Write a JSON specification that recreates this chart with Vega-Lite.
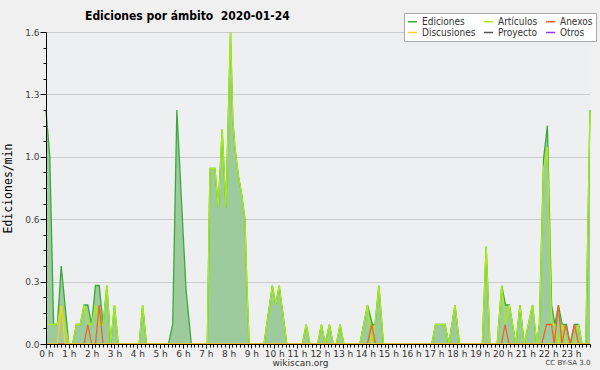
{
"$schema": "https://vega.github.io/schema/vega-lite/v6.json",
"width": 544, "height": 312,
"autosize": "none",
"padding": {"left": 46, "top": 32, "right": 10, "bottom": 26},
"background": "#f0f0f0",
"config": {"view": {"fill": "#edeff1", "stroke": null}, "font": "DejaVu Sans"},
"title": {"text": "Ediciones por ámbito\u00a0 2020-01-24", "anchor": "start", "frame": "group", "dx": 39, "offset": 10, "dy": 20, "fontSize": 12, "font": "DejaVu Sans Condensed", "fontWeight": "bold", "color": "#000"},
"data": {"values": [
{"s":"Ediciones","m":0,"v":1.2},{"s":"Ediciones","m":10,"v":0.96},{"s":"Ediciones","m":20,"v":0.1},{"s":"Ediciones","m":30,"v":0.1},{"s":"Ediciones","m":40,"v":0.4},{"s":"Ediciones","m":50,"v":0.2},{"s":"Ediciones","m":60,"v":0},{"s":"Ediciones","m":70,"v":0},{"s":"Ediciones","m":80,"v":0.1},{"s":"Ediciones","m":90,"v":0.1},{"s":"Ediciones","m":100,"v":0.2},{"s":"Ediciones","m":110,"v":0.2},{"s":"Ediciones","m":120,"v":0.1},{"s":"Ediciones","m":130,"v":0.3},{"s":"Ediciones","m":140,"v":0.3},{"s":"Ediciones","m":150,"v":0.1},{"s":"Ediciones","m":160,"v":0.3},{"s":"Ediciones","m":170,"v":0},{"s":"Ediciones","m":180,"v":0.2},{"s":"Ediciones","m":190,"v":0},{"s":"Ediciones","m":245,"v":0},{"s":"Ediciones","m":254,"v":0.2},{"s":"Ediciones","m":264,"v":0},{"s":"Ediciones","m":322,"v":0},{"s":"Ediciones","m":333,"v":0.1},{"s":"Ediciones","m":344,"v":1.2},{"s":"Ediciones","m":368,"v":0.28},{"s":"Ediciones","m":382,"v":0},{"s":"Ediciones","m":424,"v":0},{"s":"Ediciones","m":431,"v":0.9},{"s":"Ediciones","m":444,"v":0.9},{"s":"Ediciones","m":453,"v":0.7},{"s":"Ediciones","m":463,"v":1.1},{"s":"Ediciones","m":473,"v":0.7},{"s":"Ediciones","m":485,"v":1.6},{"s":"Ediciones","m":491,"v":1.15},{"s":"Ediciones","m":497,"v":1.0},{"s":"Ediciones","m":506,"v":0.86},{"s":"Ediciones","m":514,"v":0.77},{"s":"Ediciones","m":523,"v":0.64},{"s":"Ediciones","m":528,"v":0.3},{"s":"Ediciones","m":534,"v":0},{"s":"Ediciones","m":573,"v":0},{"s":"Ediciones","m":584,"v":0.15},{"s":"Ediciones","m":595,"v":0.3},{"s":"Ediciones","m":604,"v":0.2},{"s":"Ediciones","m":613,"v":0.3},{"s":"Ediciones","m":623,"v":0.15},{"s":"Ediciones","m":633,"v":0},{"s":"Ediciones","m":674,"v":0},{"s":"Ediciones","m":684,"v":0.1},{"s":"Ediciones","m":694,"v":0},{"s":"Ediciones","m":714,"v":0},{"s":"Ediciones","m":724,"v":0.1},{"s":"Ediciones","m":734,"v":0},{"s":"Ediciones","m":745,"v":0.1},{"s":"Ediciones","m":755,"v":0},{"s":"Ediciones","m":763,"v":0},{"s":"Ediciones","m":773,"v":0.1},{"s":"Ediciones","m":783,"v":0},{"s":"Ediciones","m":825,"v":0},{"s":"Ediciones","m":845,"v":0.2},{"s":"Ediciones","m":858,"v":0.1},{"s":"Ediciones","m":865,"v":0.1},{"s":"Ediciones","m":875,"v":0.3},{"s":"Ediciones","m":887,"v":0},{"s":"Ediciones","m":1014,"v":0},{"s":"Ediciones","m":1024,"v":0.1},{"s":"Ediciones","m":1049,"v":0.1},{"s":"Ediciones","m":1059,"v":0},{"s":"Ediciones","m":1075,"v":0.2},{"s":"Ediciones","m":1087,"v":0},{"s":"Ediciones","m":1147,"v":0},{"s":"Ediciones","m":1157,"v":0.5},{"s":"Ediciones","m":1167,"v":0},{"s":"Ediciones","m":1186,"v":0},{"s":"Ediciones","m":1198,"v":0.3},{"s":"Ediciones","m":1208,"v":0.2},{"s":"Ediciones","m":1218,"v":0.2},{"s":"Ediciones","m":1235,"v":0},{"s":"Ediciones","m":1246,"v":0.2},{"s":"Ediciones","m":1257,"v":0},{"s":"Ediciones","m":1268,"v":0.1},{"s":"Ediciones","m":1279,"v":0.2},{"s":"Ediciones","m":1290,"v":0},{"s":"Ediciones","m":1297,"v":0.1},{"s":"Ediciones","m":1308,"v":0.95},{"s":"Ediciones","m":1318,"v":1.12},{"s":"Ediciones","m":1329,"v":0.2},{"s":"Ediciones","m":1338,"v":0.1},{"s":"Ediciones","m":1347,"v":0.2},{"s":"Ediciones","m":1357,"v":0.1},{"s":"Ediciones","m":1368,"v":0.1},{"s":"Ediciones","m":1378,"v":0},{"s":"Ediciones","m":1389,"v":0.1},{"s":"Ediciones","m":1400,"v":0.1},{"s":"Ediciones","m":1409,"v":0},{"s":"Ediciones","m":1419,"v":0},{"s":"Ediciones","m":1430,"v":1.2},
{"s":"Artículos","m":0,"v":0.1},{"s":"Artículos","m":30,"v":0.1},{"s":"Artículos","m":40,"v":0.2},{"s":"Artículos","m":50,"v":0.1},{"s":"Artículos","m":60,"v":0},{"s":"Artículos","m":70,"v":0},{"s":"Artículos","m":80,"v":0.1},{"s":"Artículos","m":90,"v":0.1},{"s":"Artículos","m":100,"v":0.2},{"s":"Artículos","m":110,"v":0.1},{"s":"Artículos","m":120,"v":0.1},{"s":"Artículos","m":130,"v":0.2},{"s":"Artículos","m":140,"v":0.1},{"s":"Artículos","m":150,"v":0.1},{"s":"Artículos","m":160,"v":0.3},{"s":"Artículos","m":170,"v":0},{"s":"Artículos","m":180,"v":0.2},{"s":"Artículos","m":190,"v":0},{"s":"Artículos","m":245,"v":0},{"s":"Artículos","m":254,"v":0.2},{"s":"Artículos","m":264,"v":0},{"s":"Artículos","m":424,"v":0},{"s":"Artículos","m":431,"v":0.9},{"s":"Artículos","m":444,"v":0.9},{"s":"Artículos","m":453,"v":0.7},{"s":"Artículos","m":463,"v":1.1},{"s":"Artículos","m":473,"v":0.7},{"s":"Artículos","m":485,"v":1.6},{"s":"Artículos","m":491,"v":1.15},{"s":"Artículos","m":497,"v":1.0},{"s":"Artículos","m":506,"v":0.86},{"s":"Artículos","m":514,"v":0.77},{"s":"Artículos","m":523,"v":0.64},{"s":"Artículos","m":528,"v":0.3},{"s":"Artículos","m":534,"v":0},{"s":"Artículos","m":573,"v":0},{"s":"Artículos","m":584,"v":0.15},{"s":"Artículos","m":595,"v":0.3},{"s":"Artículos","m":604,"v":0.2},{"s":"Artículos","m":613,"v":0.3},{"s":"Artículos","m":623,"v":0.15},{"s":"Artículos","m":633,"v":0},{"s":"Artículos","m":674,"v":0},{"s":"Artículos","m":684,"v":0.1},{"s":"Artículos","m":694,"v":0},{"s":"Artículos","m":714,"v":0},{"s":"Artículos","m":724,"v":0.1},{"s":"Artículos","m":734,"v":0},{"s":"Artículos","m":745,"v":0.1},{"s":"Artículos","m":755,"v":0},{"s":"Artículos","m":763,"v":0},{"s":"Artículos","m":773,"v":0.1},{"s":"Artículos","m":783,"v":0},{"s":"Artículos","m":825,"v":0},{"s":"Artículos","m":845,"v":0.2},{"s":"Artículos","m":856,"v":0},{"s":"Artículos","m":865,"v":0.1},{"s":"Artículos","m":875,"v":0.3},{"s":"Artículos","m":887,"v":0},{"s":"Artículos","m":1014,"v":0},{"s":"Artículos","m":1024,"v":0.1},{"s":"Artículos","m":1049,"v":0.1},{"s":"Artículos","m":1059,"v":0},{"s":"Artículos","m":1075,"v":0.2},{"s":"Artículos","m":1087,"v":0},{"s":"Artículos","m":1147,"v":0},{"s":"Artículos","m":1157,"v":0.5},{"s":"Artículos","m":1167,"v":0},{"s":"Artículos","m":1186,"v":0},{"s":"Artículos","m":1198,"v":0.3},{"s":"Artículos","m":1208,"v":0.1},{"s":"Artículos","m":1218,"v":0.2},{"s":"Artículos","m":1235,"v":0},{"s":"Artículos","m":1246,"v":0.2},{"s":"Artículos","m":1257,"v":0},{"s":"Artículos","m":1268,"v":0.1},{"s":"Artículos","m":1279,"v":0.2},{"s":"Artículos","m":1290,"v":0},{"s":"Artículos","m":1297,"v":0.1},{"s":"Artículos","m":1308,"v":0.9},{"s":"Artículos","m":1318,"v":1.01},{"s":"Artículos","m":1329,"v":0.1},{"s":"Artículos","m":1338,"v":0.1},{"s":"Artículos","m":1347,"v":0},{"s":"Artículos","m":1357,"v":0.1},{"s":"Artículos","m":1368,"v":0},{"s":"Artículos","m":1389,"v":0},{"s":"Artículos","m":1400,"v":0.1},{"s":"Artículos","m":1409,"v":0},{"s":"Artículos","m":1419,"v":0},{"s":"Artículos","m":1430,"v":1.2},
{"s":"Anexos","m":0,"v":0},{"s":"Anexos","m":100,"v":0},{"s":"Anexos","m":110,"v":0.1},{"s":"Anexos","m":120,"v":0},{"s":"Anexos","m":130,"v":0},{"s":"Anexos","m":140,"v":0.2},{"s":"Anexos","m":150,"v":0},{"s":"Anexos","m":845,"v":0},{"s":"Anexos","m":856,"v":0.1},{"s":"Anexos","m":866,"v":0},{"s":"Anexos","m":1197,"v":0},{"s":"Anexos","m":1207,"v":0.1},{"s":"Anexos","m":1217,"v":0},{"s":"Anexos","m":1303,"v":0},{"s":"Anexos","m":1316,"v":0.1},{"s":"Anexos","m":1329,"v":0.1},{"s":"Anexos","m":1336,"v":0},{"s":"Anexos","m":1347,"v":0.2},{"s":"Anexos","m":1356,"v":0},{"s":"Anexos","m":1366,"v":0.1},{"s":"Anexos","m":1378,"v":0},{"s":"Anexos","m":1389,"v":0.1},{"s":"Anexos","m":1400,"v":0},{"s":"Anexos","m":1430,"v":0},
{"s":"Discusiones","m":0,"v":0},{"s":"Discusiones","m":30,"v":0},{"s":"Discusiones","m":40,"v":0.2},{"s":"Discusiones","m":50,"v":0},{"s":"Discusiones","m":1430,"v":0}
]},
"layer": [
 {"transform": [{"filter": "datum.s === 'Ediciones'"}],
  "mark": {"type": "area", "fill": "#9ecb9e", "opacity": 1},
  "encoding": {
   "x": {"field": "m", "type": "quantitative", "scale": {"domain": [0, 1430], "nice": false, "zero": false},
     "axis": {"orient": "bottom", "values": [0,60,120,180,240,300,360,420,480,540,600,660,720,780,840,900,960,1020,1080,1140,1200,1260,1320,1380],
       "labelExpr": "format(datum.value/60, 'd') + ' h'", "tickSize": 4, "tickColor": "#000", "domainColor": "#000", "labelFontSize": 9, "labelColor": "#333", "labelPadding": 1, "labelFlush": false, "labelOverlap": false, "grid": false,
       "title": "wikiscan.org", "titleFontSize": 9, "titleFontWeight": "normal", "titleColor": "#333", "titleX": 254, "titleY": 18, "titleBaseline": "middle", "zindex": 1}},
   "y": {"field": "v", "type": "quantitative", "stack": null, "scale": {"domain": [0, 1.6], "nice": false},
     "axis": {"orient": "left", "values": [0,0.32,0.64,0.96,1.28,1.6], "format": ".1f", "tickSize": 6, "tickColor": "#000", "domain": false, "grid": true, "gridColor": "#cccccc", "labelFontSize": 9, "labelColor": "#444", "labelPadding": 1,
       "title": "Ediciones/min", "titleFont": "DejaVu Sans Mono", "titleFontSize": 11.5, "titleFontWeight": "normal", "titleColor": "#000", "titleX": -38, "titleY": 156, "titleAngle": -90, "titleAlign": "center", "titleBaseline": "middle", "zindex": 0}}
  }},
 {"encoding": {
   "x": {"field": "m", "type": "quantitative", "axis": {"orient": "bottom", "tickCount": 143, "labels": false, "tickSize": 3, "tickColor": "#000", "domain": false, "grid": false,
       "title": "CC BY-SA 3.0", "titleFontSize": 7, "titleFontWeight": "normal", "titleColor": "#444", "titleX": 544, "titleAlign": "right", "titleY": 18, "titleBaseline": "middle", "zindex": 1}},
   "y": {"field": "v", "type": "quantitative", "stack": null, "axis": {"orient": "left", "values": [0,0.08,0.16,0.24,0.32,0.4,0.48,0.56,0.64,0.72,0.8,0.88,0.96,1.04,1.12,1.2,1.28,1.36,1.44,1.52,1.6], "labels": false, "tickSize": 3, "tickColor": "#000", "domain": true, "domainColor": "#000", "grid": false, "title": null, "zindex": 1}},
   "color": {"field": "s", "type": "nominal",
     "scale": {"domain": ["Ediciones","Artículos","Anexos","Discusiones","Proyecto","Otros"], "range": ["#3aa93a","#aaee11","#ee6622","#ffcc22","#555555","#9933ff"]},
     "legend": {"orient": "none", "legendX": 358, "legendY": -19, "columns": 3, "direction": "horizontal", "symbolType": "stroke", "symbolSize": 81, "symbolStrokeWidth": 1.5, "labelFontSize": 10, "labelFont": "DejaVu Sans Condensed", "labelColor": "#333", "labelOffset": 4, "rowPadding": 0, "columnPadding": 5, "padding": 3, "fillColor": "#ffffff", "strokeColor": "#aaaaaa", "title": null}}
  },
  "layer": [
   {"transform": [{"filter": "datum.s === 'Ediciones'"}], "mark": {"type": "line", "strokeWidth": 1.3}},
   {"transform": [{"filter": "datum.s === 'Artículos'"}], "mark": {"type": "line", "strokeWidth": 1.3}},
   {"transform": [{"filter": "datum.s === 'Anexos'"}], "mark": {"type": "line", "strokeWidth": 1.3}},
   {"transform": [{"filter": "datum.s === 'Discusiones'"}], "mark": {"type": "line", "strokeWidth": 1.3}}
  ]}
],
"resolve": {"axis": {"x": "independent", "y": "independent"}}
}
